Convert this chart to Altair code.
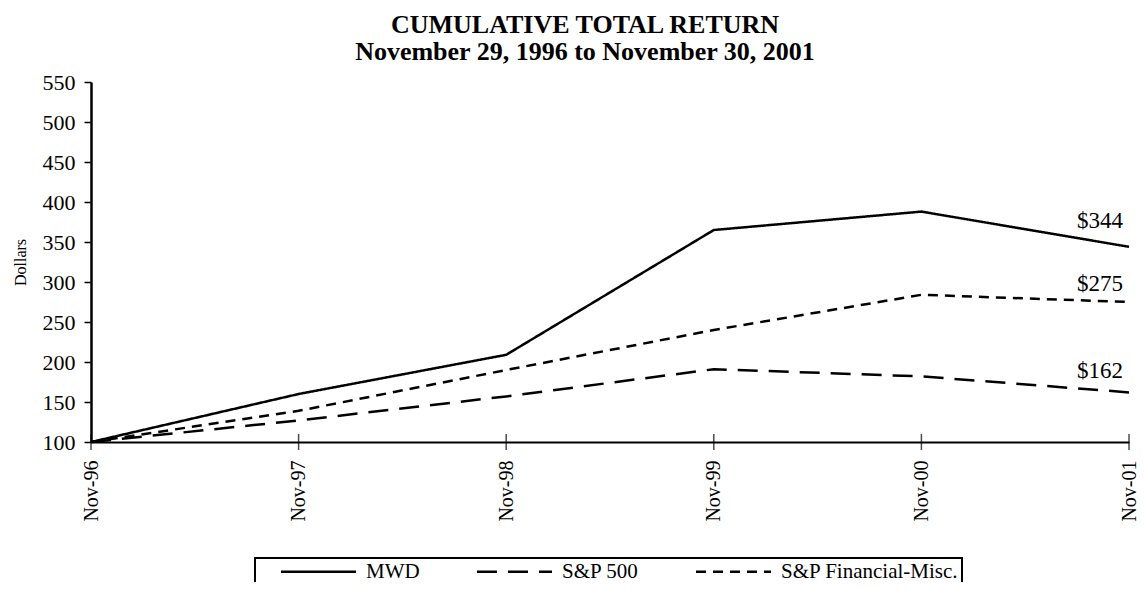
import altair as alt
import pandas as pd

periods = ["Nov-96", "Nov-97", "Nov-98", "Nov-99", "Nov-00", "Nov-01"]
series_names = ["MWD", "S&P 500", "S&P Financial-Misc."]
mwd = [100, 160, 209, 365, 388, 344]
sp500 = [100, 127, 157, 191, 182, 162]
spfin = [100, 139, 190, 240, 284, 275]
end_labels = ["$344", "$162", "$275"]
y_ticks = [100, 150, 200, 250, 300, 350, 400, 450, 500, 550]

rows = []
for name, vals in zip(series_names, [mwd, sp500, spfin]):
    for p, v in zip(periods, vals):
        rows.append({"period": p, "series": name, "value": v})
df = pd.DataFrame(rows)
tick_df = pd.DataFrame({"period": periods})

FONT = "Liberation Serif"
x_scale = alt.Scale(type="point", padding=0)
y_scale = alt.Scale(domain=[100, 550], nice=False, zero=False)

x_axis = alt.Axis(
    title=None, labelAngle=270, labelFont=FONT, labelFontSize=20,
    labelColor="black", ticks=False, domainColor="black", domainWidth=2,
    labelPadding=18, grid=False, labelOverlap=False,
)
y_axis = alt.Axis(
    title="Dollars", values=y_ticks, labelFont=FONT,
    labelFontSize=22, labelColor="black", tickSize=7, tickColor="black",
    tickWidth=1.5, domainColor="black", domainWidth=2.5, labelPadding=9,
    grid=False, labelOverlap=False, labelFlush=False,
    titleFont=FONT, titleFontSize=16, titleFontWeight="normal",
    titleColor="black", titlePadding=14,
)

def xe():
    return alt.X("period:N", sort=periods, scale=x_scale, axis=x_axis)

lines = alt.Chart(df).mark_line(color="black", strokeWidth=2.5).encode(
    x=xe(),
    y=alt.Y("value:Q", scale=y_scale, axis=y_axis),
    strokeDash=alt.StrokeDash(
        "series:N",
        sort=series_names,
        scale=alt.Scale(domain=series_names, range=[[1, 0], [20, 11], [10, 7]]),
        legend=alt.Legend(
            title=None, orient="none", legendX=164, legendY=476,
            direction="horizontal", symbolType="M2.5,0H17.5", symbolSize=100,
            symbolStrokeWidth=2.5, symbolStrokeColor="black",
            labelFont=FONT, labelFontSize=21, labelColor="black",
            labelOffset=87, columnPadding=34, padding=3,
            strokeColor="black", fillColor="white", labelLimit=400,
        ),
    ),
)

xticks = alt.Chart(tick_df).mark_tick(
    orient="vertical", color="black", thickness=1.5, size=16
).encode(
    x=xe(),
    y=alt.Y(datum=100, type="quantitative", scale=y_scale, axis=y_axis),
)

def end_text(series, label, dy):
    return alt.Chart(df).transform_filter(
        (alt.datum.series == series) & (alt.datum.period == periods[-1])
    ).mark_text(
        font=FONT, fontSize=23, color="black", align="right",
        baseline="alphabetic", dx=-6, dy=dy,
    ).encode(
        x=xe(),
        y=alt.Y("value:Q", scale=y_scale, axis=y_axis),
        text=alt.value(label),
    )

t1 = end_text("MWD", end_labels[0], -19)
t2 = end_text("S&P 500", end_labels[1], -14)
t3 = end_text("S&P Financial-Misc.", end_labels[2], -11)

chart = alt.layer(lines, xticks, t1, t2, t3).properties(
    width=1038,
    height=360,
    padding={"left": 83, "top": 74, "right": 8, "bottom": 140},
    autosize=alt.AutoSizeParams(type="none"),
    title=alt.TitleParams(
        text=["CUMULATIVE TOTAL RETURN", "November 29, 1996 to November 30, 2001"],
        font=FONT, fontSize=26, fontWeight="bold", color="black",
        anchor="middle", dx=-25, offset=6, lineHeight=27,
    ),
).configure_view(stroke=None).configure_legend(strokeWidth=2)

chart.save("out.html", embed_options={"renderer": "svg", "actions": False})
